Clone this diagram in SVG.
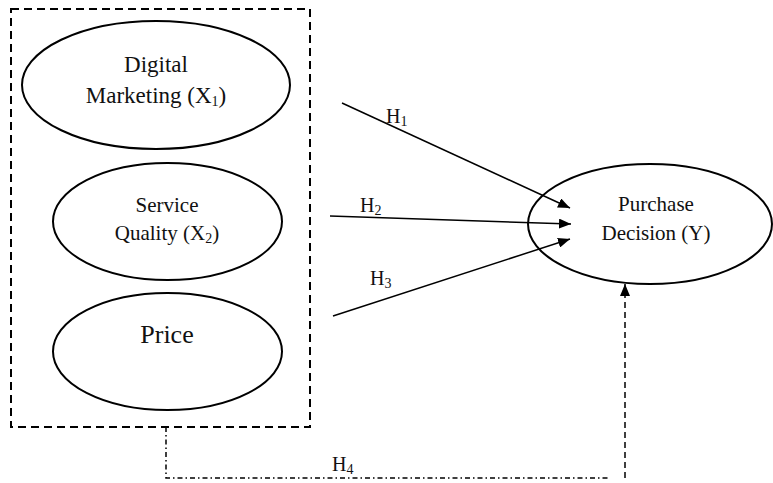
<svg xmlns="http://www.w3.org/2000/svg" width="773" height="483" viewBox="0 0 773 483">
<style>
.node ellipse{fill:#fff;stroke:#000;stroke-width:2}
text{font-family:"Liberation Serif","Times New Roman",serif;fill:#111;text-anchor:middle}
.lbl{font-size:20px;text-anchor:start}
.sub{font-size:14px}
.conn line,.conn path{fill:none;stroke:#000;stroke-width:1.5}
</style>
<defs>
<marker id="arr" viewBox="0 0 12 10" refX="12" refY="5" markerWidth="12" markerHeight="10" markerUnits="userSpaceOnUse" orient="auto">
<path d="M0,0 L12,5 L0,10 Z" fill="#000"/>
</marker>
</defs>
<g id="group-box">
<rect x="11" y="9" width="299" height="418" fill="none" stroke="#000" stroke-width="2" stroke-dasharray="8,5"/>
</g>
<g id="node-x1" class="node">
<ellipse cx="156" cy="85" rx="134" ry="64"/>
<text x="156" y="72" font-size="23">Digital</text>
<text x="156" y="103" font-size="23">Marketing (X<tspan class="sub" dy="3">1</tspan><tspan dy="-3">)</tspan></text>
</g>
<g id="node-x2" class="node">
<ellipse cx="167.5" cy="221.5" rx="114.5" ry="58.5"/>
<text x="167" y="212" font-size="21">Service</text>
<text x="167" y="240" font-size="21">Quality (X<tspan class="sub" dy="3">2</tspan><tspan dy="-3">)</tspan></text>
</g>
<g id="node-x3" class="node">
<ellipse cx="167.5" cy="351.5" rx="114.5" ry="58.5"/>
<text x="167" y="343" font-size="26">Price</text>
</g>
<g id="node-y" class="node">
<ellipse cx="650" cy="224" rx="122" ry="60"/>
<text x="656" y="211" font-size="21">Purchase</text>
<text x="656" y="240" font-size="21">Decision (Y)</text>
</g>
<g id="connectors" class="conn">
<line x1="342" y1="103" x2="570" y2="208" marker-end="url(#arr)"/>
<line x1="330" y1="216" x2="571" y2="224" marker-end="url(#arr)"/>
<line x1="333" y1="316" x2="570" y2="239" marker-end="url(#arr)"/>
<path d="M166,427 L166,478 L610,478" stroke-dasharray="5,3,1.5,3"/>
<line x1="625" y1="478" x2="625" y2="284" stroke-dasharray="6,4" marker-end="url(#arr)"/>
<text class="lbl" x="386" y="123">H<tspan class="sub" dy="3">1</tspan></text>
<text class="lbl" x="360" y="212">H<tspan class="sub" dy="3">2</tspan></text>
<text class="lbl" x="370" y="285">H<tspan class="sub" dy="3">3</tspan></text>
<text class="lbl" x="332" y="471">H<tspan class="sub" dy="3">4</tspan></text>
</g>
</svg>
